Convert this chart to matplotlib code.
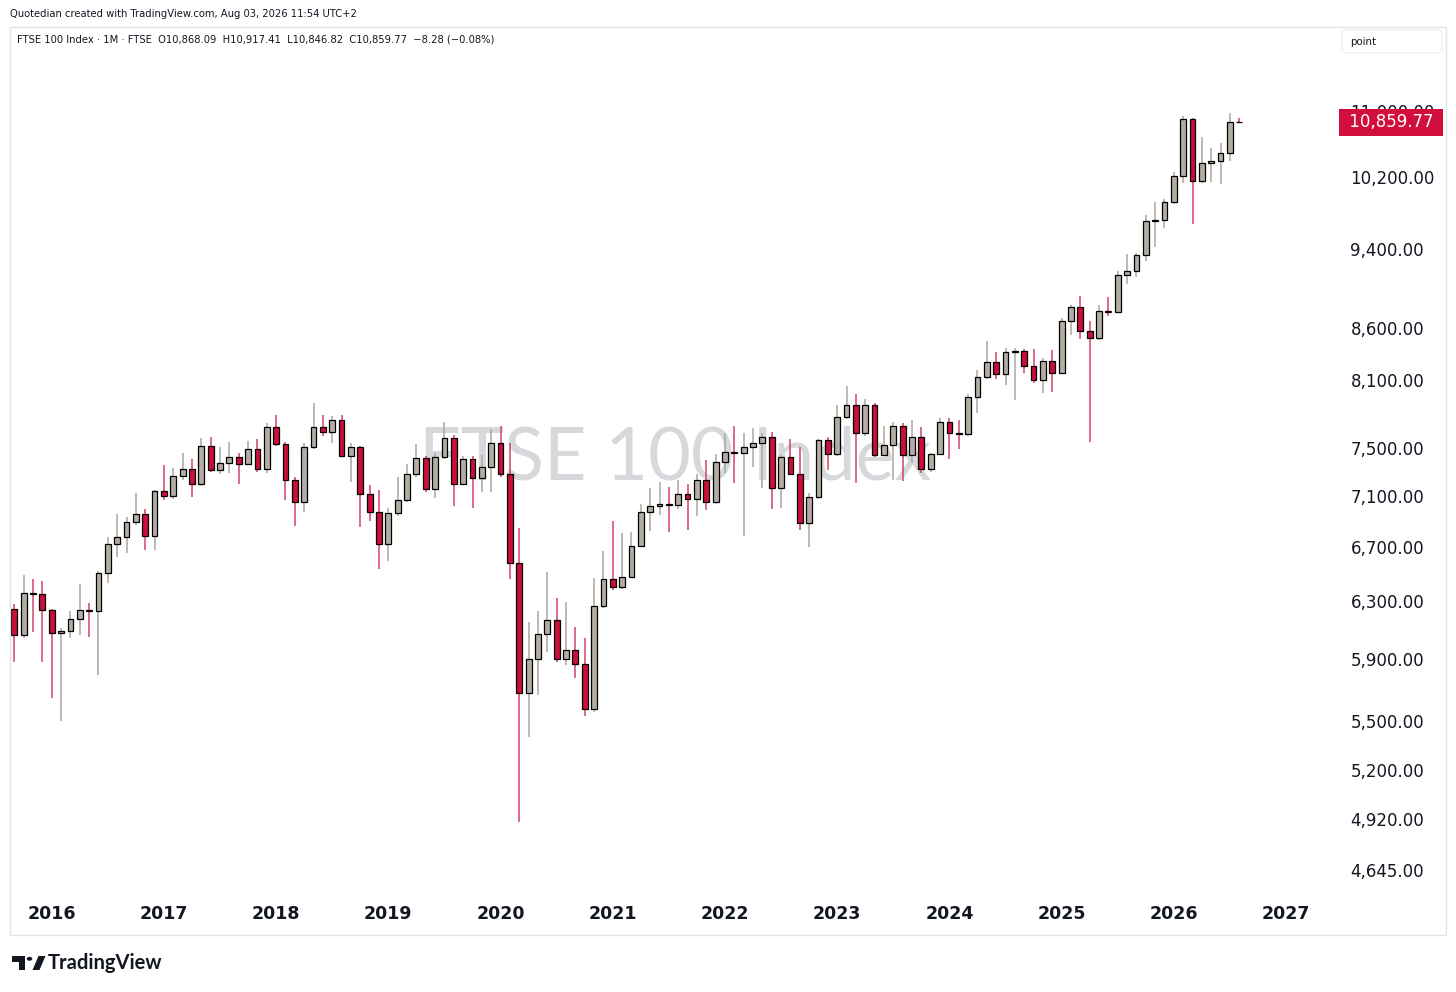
import numpy as np
import matplotlib
matplotlib.use("Agg")
import matplotlib.pyplot as plt
from matplotlib.patches import Rectangle, FancyBboxPatch, Polygon, Circle
from matplotlib.ticker import FixedLocator, NullLocator
from matplotlib.transforms import blended_transform_factory

# monthly candles, Sep 2015 .. Aug 2026
months = [f"{y}-{m:02d}" for y in range(2015, 2027) for m in range(1, 13)]
months = months[8:8 + 132]

opens = [6246, 6062, 6359, 6356, 6239, 6080, 6092, 6174, 6239, 6232, 6505, 6723,
         6777, 6893, 6956, 6787, 7140, 7102, 7263, 7321, 7200, 7520, 7313, 7371,
         7427, 7368, 7489, 7326, 7684, 7532, 7230, 7051, 7506, 7679, 7635, 7743,
         7430, 7506, 7121, 6977, 6723, 6964, 7068, 7280, 7413, 7161, 7422, 7584,
         7200, 7405, 7246, 7343, 7541, 7280, 6579, 5676, 5899, 6071, 6167, 5899,
         5960, 5866, 5573, 6268, 6461, 6407, 6480, 6710, 6972, 7024, 7035, 7030,
         7116, 7080, 7232, 7054, 7385, 7464, 7458, 7511, 7546, 7597, 7169, 7422,
         7282, 6885, 7092, 7569, 7447, 7767, 7873, 7627, 7873, 7438, 7526, 7693,
         7438, 7597, 7321, 7447, 7725, 7627, 7624, 7945, 8133, 8273, 8156, 8362,
         8373, 8233, 8103, 8283, 8165, 8669, 8801, 8571, 8496, 8768, 8752, 9130,
         9174, 9340, 9711, 9719, 9923, 10217, 10897, 10163, 10365, 10396, 10491, 10868.09]
highs = [6282, 6492, 6463, 6448, 6245, 6111, 6234, 6426, 6287, 6525, 6781, 6958,
         6937, 7124, 6996, 7150, 7354, 7329, 7455, 7407, 7586, 7597, 7511, 7549,
         7455, 7563, 7577, 7719, 7787, 7554, 7254, 7546, 7897, 7787, 7778, 7787,
         7546, 7520, 7191, 7151, 7004, 7254, 7365, 7532, 7430, 7460, 7728, 7612,
         7435, 7435, 7441, 7662, 7690, 7546, 6851, 6153, 6234, 6515, 6323, 6294,
         6122, 6042, 6468, 6674, 6903, 6807, 6820, 7038, 7165, 7219, 7173, 7232,
         7197, 7282, 7399, 7447, 7627, 7690, 7627, 7670, 7629, 7641, 7441, 7575,
         7511, 7129, 7580, 7597, 7876, 8048, 7975, 7927, 7897, 7690, 7722, 7714,
         7743, 7684, 7460, 7763, 7763, 7743, 7975, 8195, 8473, 8368, 8400, 8403,
         8390, 8393, 8305, 8384, 8692, 8824, 8914, 8669, 8824, 8899, 9174, 9350,
         9360, 9774, 9923, 9950, 10267, 10938, 10910, 10676, 10551, 10611, 10979, 10917.41]
lows = [5879, 6045, 6087, 5879, 5647, 5502, 6042, 6064, 6053, 5795, 6436, 6624,
        6659, 6870, 6679, 6679, 7070, 7080, 7232, 7096, 7180, 7295, 7285, 7293,
        7197, 7360, 7300, 7293, 7520, 7070, 6866, 6977, 7490, 7600, 7541, 7420,
        7219, 6859, 6906, 6537, 6599, 6940, 7050, 7260, 7137, 7084, 7410, 7022,
        7190, 7004, 7137, 7137, 7260, 6463, 4905, 5399, 5665, 5950, 5880, 5861,
        5777, 5531, 5558, 6250, 6385, 6390, 6470, 6700, 6828, 6950, 6815, 6996,
        6833, 6945, 6990, 7040, 7288, 7210, 6789, 7343, 7165, 6996, 7004, 7274,
        6833, 6705, 7080, 7311, 7430, 7750, 7205, 7600, 7420, 7430, 7232, 7224,
        7376, 7288, 7300, 7440, 7405, 7489, 7603, 7802, 8109, 8115, 8057, 7921,
        8170, 8078, 7984, 7993, 8160, 8529, 8487, 7549, 8477, 8716, 8740, 9034,
        9112, 9276, 9428, 9626, 9900, 10139, 9670, 10136, 10151, 10125, 10392, 10846.82]
closes = [6062, 6359, 6356, 6239, 6080, 6092, 6174, 6239, 6232, 6505, 6723, 6777,
          6893, 6956, 6787, 7140, 7102, 7263, 7321, 7200, 7520, 7313, 7371, 7427,
          7368, 7489, 7326, 7684, 7532, 7230, 7051, 7506, 7679, 7635, 7743, 7430,
          7506, 7121, 6977, 6723, 6964, 7068, 7280, 7413, 7161, 7422, 7584, 7200,
          7405, 7246, 7343, 7541, 7280, 6579, 5676, 5899, 6071, 6167, 5899, 5960,
          5866, 5573, 6268, 6461, 6407, 6480, 6710, 6972, 7024, 7035, 7030, 7116,
          7080, 7232, 7054, 7385, 7464, 7458, 7511, 7546, 7597, 7169, 7422, 7282,
          6885, 7092, 7569, 7447, 7767, 7873, 7627, 7873, 7438, 7526, 7693, 7438,
          7597, 7321, 7447, 7725, 7627, 7624, 7945, 8133, 8273, 8156, 8362, 8373,
          8233, 8103, 8283, 8165, 8669, 8801, 8571, 8496, 8768, 8752, 9130, 9174,
          9340, 9711, 9719, 9923, 10217, 10897, 10163, 10365, 10396, 10491, 10868.09, 10859.77]

price_ticks = [4645, 4920, 5200, 5500, 5900, 6300, 6700, 7100, 7500, 8100, 8600, 9400, 10200, 11000]
year_labels = [str(y) for y in range(2016, 2028)]

UP = "#b4ada4"
DOWN = "#cc0e3b"
UP_WICK = "#aca69f"
DOWN_WICK = "#d4426c"
TXT = "#131722"

W, H = 1456, 992
fig = plt.figure(figsize=(W / 100, H / 100), dpi=100)
fig.patch.set_facecolor("white")


def px(x, y):
    return (x / W, 1 - y / H)


# chart panel
ax = fig.add_axes([10 / W, 1 - 895 / H, 1330 / W, (895 - 56) / H])
ax.set_facecolor("white")
for s in ax.spines.values():
    s.set_visible(False)

o = np.array(opens, float)
h = np.array(highs, float)
l = np.array(lows, float)
c = np.array(closes, float)
x = np.arange(len(months))
up = c >= o

ax.vlines(x[up], l[up], h[up], colors=UP_WICK, lw=1.1, zorder=2)
ax.vlines(x[~up], l[~up], h[~up], colors=DOWN_WICK, lw=1.1, zorder=2)
bot = np.minimum(o, c)
hgt = np.maximum(np.abs(c - o), 0.5)
ax.bar(x[up], hgt[up], bottom=bot[up], width=0.62, color=UP, edgecolor="black", lw=0.9, zorder=3)
ax.bar(x[~up], hgt[~up], bottom=bot[~up], width=0.62, color=DOWN, edgecolor="black", lw=0.9, zorder=3)

ax.set_yscale("log")
ax.set_ylim(4513, 11709)
ax.set_xlim(-0.46, 141.77)

ax.yaxis.tick_right()
ax.yaxis.set_major_locator(FixedLocator(price_ticks))
ax.yaxis.set_minor_locator(NullLocator())
ax.set_yticklabels([f"{v:,.2f}" for v in price_ticks])
ax.tick_params(axis="y", length=0, pad=7.5, labelsize=12, labelcolor=TXT)

# January of each year, counted from Sep 2015
jan_idx = [(int(y) - 2015) * 12 - 8 for y in year_labels]
ax.set_xticks(jan_idx)
ax.set_xticklabels(year_labels)
ax.tick_params(axis="x", length=0, pad=7, labelsize=12.5, labelcolor=TXT)
for t in ax.get_xticklabels():
    t.set_fontweight("semibold")

# watermark
ax.text(0.5, 0.52, "FTSE 100 Index", transform=ax.transAxes, ha="center", va="center",
        fontsize=53, family="Lato", color="#d6d8dc", zorder=0)

# last price tag
tr = blended_transform_factory(ax.transAxes, ax.transData)
ax.text(1.003, c[-1], f" {c[-1]:,.2f} ", transform=tr, ha="left", va="center",
        fontsize=12, color="white", clip_on=False, zorder=10,
        bbox=dict(boxstyle="square,pad=0.28", fc="#d20f3c", ec="none"))

# panel border
fig.patches.append(Rectangle(px(10, 935), 1436 / W, 908 / H, transform=fig.transFigure,
                             fill=False, ec="#e0e3eb", lw=1))

# header
fig.text(*px(10, 14), "Quotedian created with TradingView.com, Aug 03, 2026 11:54 UTC+2",
         fontsize=7.2, color=TXT, va="center", ha="left")
fig.text(*px(17, 40), "FTSE 100 Index \u00b7 1M \u00b7 FTSE  O10,868.09  H10,917.41  "
         "L10,846.82  C10,859.77  \u22128.28 (\u22120.08%)",
         fontsize=7.2, color=TXT, va="center", ha="left")

# "point" box
fig.patches.append(FancyBboxPatch(px(1342, 53), 100 / W, 23 / H, transform=fig.transFigure,
                                  boxstyle="round,pad=0,rounding_size=0.003",
                                  fc="white", ec="#eef0f3", lw=1))
fig.text(*px(1350, 42), "point", fontsize=7.4, color=TXT, va="center", ha="left")

# TradingView logo
fig.patches.append(Polygon([px(12, 956), px(25, 956), px(25, 970), px(19, 970), px(19, 961.5), px(12, 961.5)],
                           closed=True, transform=fig.transFigure, fc=TXT, ec="none"))
fig.patches.append(Circle(px(29.5, 958.8), 2.8 / W, transform=fig.transFigure, fc=TXT, ec="none"))
fig.patches.append(Polygon([px(32.5, 970), px(39.5, 970), px(45.5, 956), px(38.5, 956)],
                           closed=True, transform=fig.transFigure, fc=TXT, ec="none"))
fig.text(*px(48, 963), "TradingView", fontsize=14.5, family="Lato", fontweight="bold",
         color=TXT, va="center", ha="left")

fig.savefig("out.png", dpi=100, facecolor="white")
